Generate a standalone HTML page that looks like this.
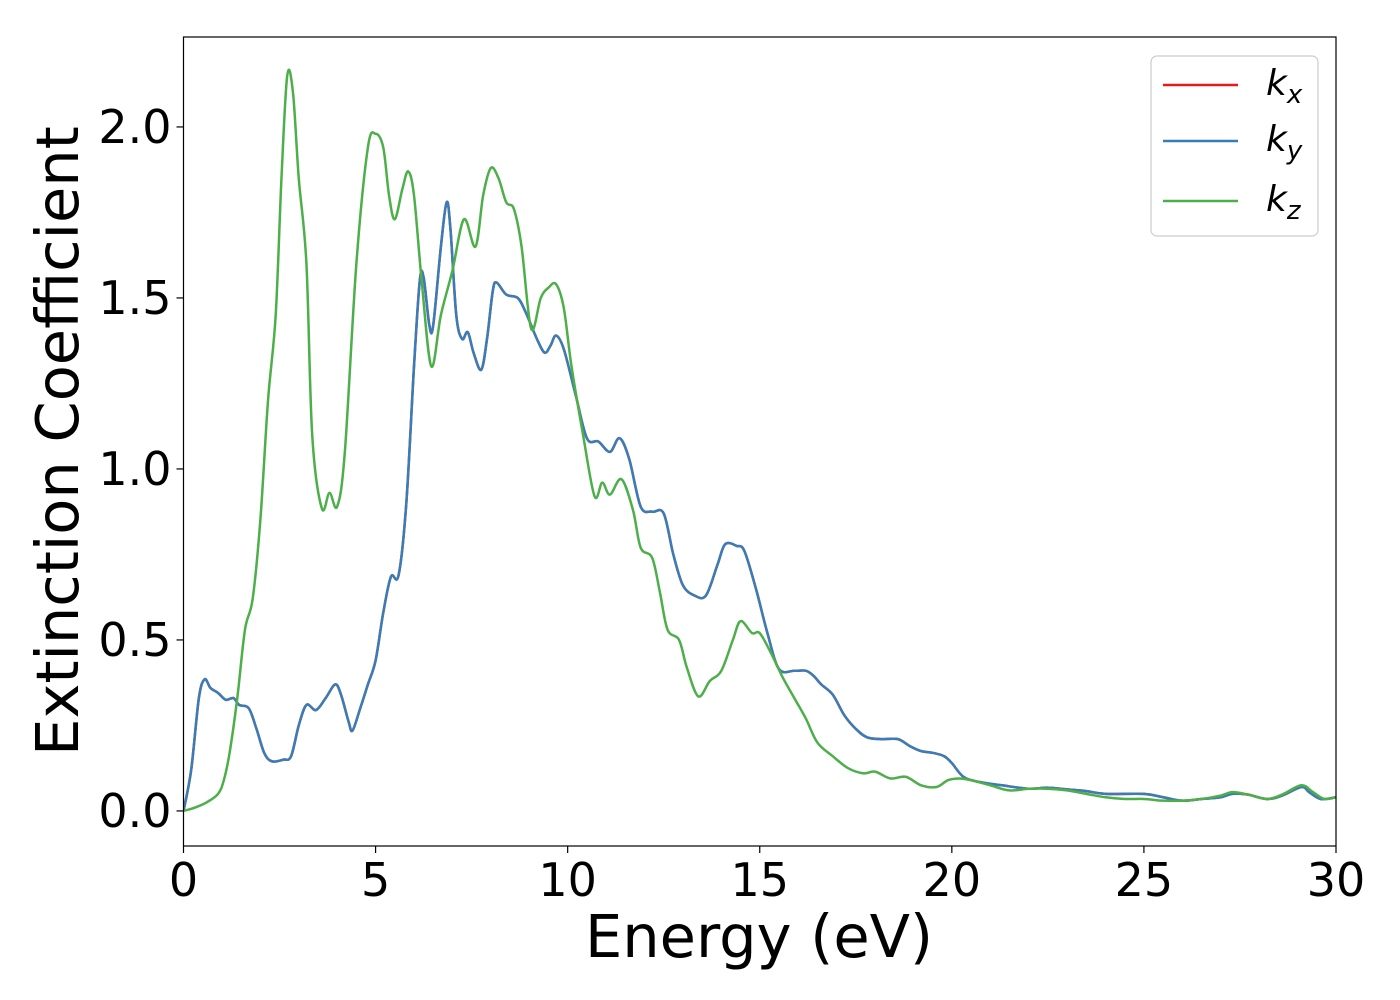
<!DOCTYPE html>
<html><head><meta charset="utf-8"><style>
html,body{margin:0;padding:0;background:#fff;}
svg{display:block;font-family:"DejaVu Sans","Liberation Sans",sans-serif;}
</style></head><body>
<svg id="chart" width="1400" height="1000" viewBox="0 0 1400 1000"></svg>
<script>
const blueE=[0,0.2,0.4,0.55,0.7,0.9,1.1,1.3,1.45,1.7,1.9,2.1,2.3,2.6,2.8,3.0,3.2,3.45,3.7,3.95,4.1,4.3,4.4,4.6,4.8,5.0,5.2,5.4,5.6,5.8,6.0,6.15,6.25,6.4,6.5,6.7,6.85,6.95,7.1,7.25,7.4,7.55,7.75,7.9,8.05,8.15,8.4,8.7,8.9,9.2,9.4,9.55,9.7,9.9,10.2,10.5,10.8,11.1,11.35,11.6,11.9,12.2,12.5,12.75,13.0,13.3,13.6,13.9,14.1,14.4,14.6,14.9,15.2,15.5,15.9,16.2,16.4,16.6,16.9,17.2,17.5,17.8,18.2,18.6,18.9,19.2,19.5,19.8,20.0,20.3,20.7,21.3,22,22.5,23,23.5,24,25,25.5,26,26.5,27,27.3,27.7,28.2,28.6,29.1,29.3,29.6,30];
const blueK=[0,0.12,0.33,0.385,0.36,0.345,0.325,0.33,0.31,0.3,0.24,0.17,0.145,0.15,0.16,0.25,0.31,0.295,0.33,0.37,0.34,0.26,0.235,0.3,0.37,0.44,0.58,0.685,0.69,0.9,1.3,1.55,1.56,1.42,1.42,1.65,1.78,1.7,1.45,1.38,1.4,1.34,1.29,1.38,1.52,1.545,1.51,1.5,1.46,1.38,1.34,1.36,1.39,1.35,1.22,1.09,1.08,1.05,1.09,1.03,0.89,0.875,0.87,0.75,0.66,0.63,0.63,0.72,0.78,0.775,0.76,0.65,0.52,0.415,0.41,0.41,0.395,0.37,0.34,0.28,0.24,0.215,0.21,0.21,0.19,0.175,0.17,0.16,0.14,0.1,0.085,0.075,0.065,0.068,0.063,0.058,0.05,0.05,0.04,0.03,0.035,0.04,0.05,0.048,0.035,0.045,0.07,0.055,0.035,0.04];
const greenE=[0,0.3,0.6,0.9,1.05,1.2,1.4,1.6,1.8,2.0,2.2,2.4,2.55,2.7,2.85,3.0,3.2,3.35,3.6,3.8,4.0,4.2,4.5,4.8,5.0,5.2,5.35,5.5,5.7,5.85,6.0,6.2,6.45,6.7,7.0,7.3,7.6,7.8,8.0,8.2,8.4,8.6,8.8,9.05,9.3,9.5,9.7,9.9,10.1,10.4,10.7,10.9,11.1,11.4,11.7,11.9,12.2,12.4,12.6,12.9,13.1,13.4,13.7,14.0,14.3,14.5,14.8,15.0,15.3,15.6,15.9,16.2,16.5,16.9,17.3,17.7,18.0,18.4,18.8,19.2,19.6,19.9,20.2,20.5,21,21.5,22,22.5,23,23.5,24,24.5,25,25.5,26,26.5,27,27.3,27.7,28.2,28.6,29.1,29.4,29.7,30];
const greenK=[0,0.01,0.025,0.05,0.09,0.17,0.33,0.53,0.62,0.85,1.2,1.45,1.85,2.15,2.1,1.85,1.6,1.1,0.885,0.93,0.89,1.05,1.6,1.94,1.98,1.94,1.8,1.73,1.82,1.87,1.8,1.55,1.3,1.45,1.58,1.73,1.65,1.8,1.88,1.85,1.78,1.76,1.65,1.41,1.5,1.53,1.54,1.47,1.3,1.1,0.92,0.96,0.925,0.97,0.88,0.77,0.74,0.64,0.53,0.5,0.42,0.335,0.38,0.41,0.5,0.555,0.52,0.52,0.46,0.39,0.33,0.27,0.2,0.16,0.125,0.11,0.115,0.095,0.1,0.075,0.07,0.09,0.095,0.09,0.075,0.06,0.065,0.065,0.06,0.05,0.04,0.035,0.035,0.03,0.03,0.035,0.045,0.055,0.048,0.035,0.048,0.075,0.055,0.035,0.04];
const xTicks=[0,5,10,15,20,25,30];
const yTicks=[0,0.5,1.0,1.5,2.0];
const yTickLabels=["0.0","0.5","1.0","1.5","2.0"];

const NS="http://www.w3.org/2000/svg";
const svg=document.getElementById('chart');
const L=183.5,R=1336,T=37,B=846;
const xMin=0,xMax=30,yMin=-0.1025,yMax=2.263;
const sx=v=>L+(v-xMin)/(xMax-xMin)*(R-L);
const sy=v=>B-(v-yMin)/(yMax-yMin)*(B-T);
function mk(tag,attrs){const e=document.createElementNS(NS,tag);for(const k in attrs)e.setAttribute(k,attrs[k]);svg.appendChild(e);return e;}
function pathFrom(xs,ys){
  const p=xs.map((x,i)=>[sx(x),sy(ys[i])]);
  let d=`M${p[0][0]},${p[0][1]}`;
  for(let i=0;i<p.length-1;i++){
    const p0=p[Math.max(0,i-1)],p1=p[i],p2=p[i+1],p3=p[Math.min(p.length-1,i+2)];
    const c1=[p1[0]+(p2[0]-p0[0])/6,p1[1]+(p2[1]-p0[1])/6];
    const c2=[p2[0]-(p3[0]-p1[0])/6,p2[1]-(p3[1]-p1[1])/6];
    d+=` C${c1[0]},${c1[1]} ${c2[0]},${c2[1]} ${p2[0]},${p2[1]}`;
  }
  return d;
}
const clip=mk('clipPath',{id:'pc'});
const cr=document.createElementNS(NS,'rect');cr.setAttribute('x',L);cr.setAttribute('y',T);cr.setAttribute('width',R-L);cr.setAttribute('height',B-T);clip.appendChild(cr);

let e;
e=mk('path',{d:pathFrom(blueE,blueK),fill:'none',stroke:'#e41a1c','stroke-width':2.5,'clip-path':'url(#pc)'});


e=mk('path',{d:pathFrom(blueE,blueK),fill:'none',stroke:'#377eb8','stroke-width':2.5,'clip-path':'url(#pc)'});


e=mk('path',{d:pathFrom(greenE,greenK),fill:'none',stroke:'#4daf4a','stroke-width':2.5,'clip-path':'url(#pc)'});



e=mk('rect',{x:L,y:T,width:R-L,height:B-T,fill:'none',stroke:'#000','stroke-width':1.2});



xTicks.forEach(t=>{
  const x=sx(t);
  e=mk('line',{x1:x,x2:x,y1:B,y2:B+7,stroke:'#000','stroke-width':1.2});
  
  
  e=mk('text',{x:x,y:B+50,'font-size':46,'text-anchor':'middle',fill:'#000'});
  e.textContent=String(t);
  
  
});
yTicks.forEach((t,i)=>{
  const y=sy(t);
  e=mk('line',{x1:L-7,x2:L,y1:y,y2:y,stroke:'#000','stroke-width':1.2});
  
  
  e=mk('text',{x:L-12,y:y+16,'font-size':46,'text-anchor':'end',fill:'#000'});
  e.textContent=yTickLabels[i];
  
  
});
e=mk('text',{x:759,y:957,'font-size':59,'text-anchor':'middle',fill:'#000'});
e.textContent='Energy (eV)';


e=mk('text',{x:0,y:0,'font-size':59,'text-anchor':'middle',fill:'#000',transform:'translate(78,441) rotate(-90)'});
e.textContent='Extinction Coefficient';



e=mk('rect',{x:1151,y:56,width:167,height:180,rx:6,fill:'#fff','fill-opacity':0.8,stroke:'#ccc','stroke-width':1.2});


const legColors=['#e41a1c','#377eb8','#4daf4a'];
const legSubs=['x','y','z'];
const legY=[85,141,201];
legColors.forEach((c,i)=>{
  e=mk('line',{x1:1163,x2:1238,y1:legY[i],y2:legY[i],stroke:c,'stroke-width':2.5});
  
  
  e=mk('text',{x:1266,y:legY[i]+10,'font-size':36,'font-style':'italic',fill:'#000'});
  
  
  const t1=document.createElementNS(NS,'tspan');t1.textContent='k';e.appendChild(t1);
  const t2=document.createElementNS(NS,'tspan');t2.setAttribute('font-size','26');t2.setAttribute('dy','8');t2.textContent=legSubs[i];e.appendChild(t2);
});
</script>
</body></html>
